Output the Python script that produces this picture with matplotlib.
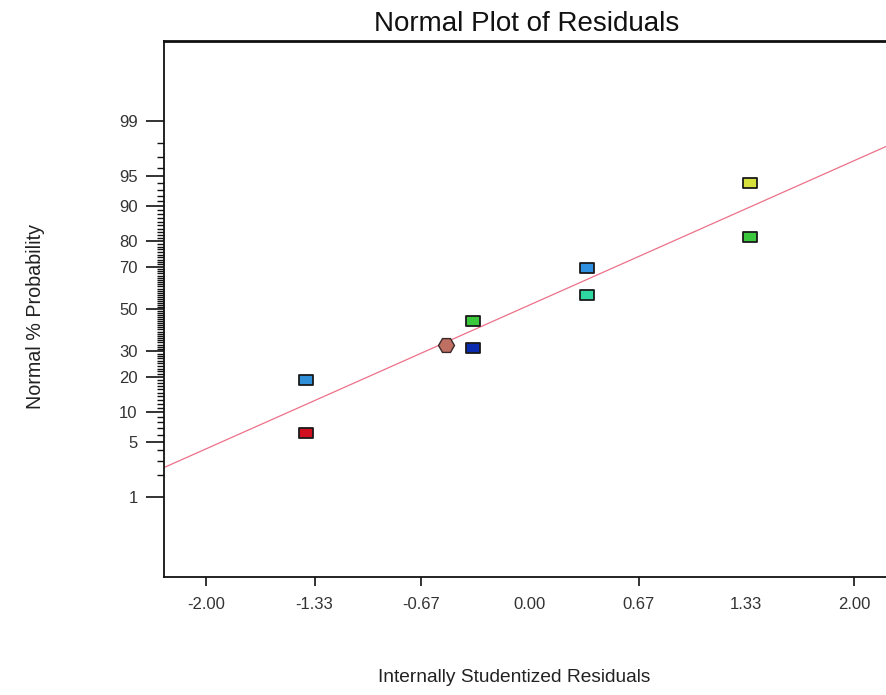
import matplotlib
matplotlib.use("Agg")
import matplotlib.pyplot as plt
import numpy as np
from matplotlib.path import Path
from statistics import NormalDist

# ---- data ----
residuals = [1.36, 1.36, 0.35, 0.35, -0.35, -0.35, -0.52, -1.38, -1.38]
prob_pct = [94.0, 81.5, 69.3, 56.8, 44.0, 31.4, 33.0, 19.1, 6.3]
colors = ["#d6e03c", "#3cc83c", "#2f8fe0", "#2fd8a0", "#3cc83c",
          "#0a2ab0", "#c07062", "#2f8fd8", "#d01020"]
shapes = ["rect", "rect", "rect", "rect", "rect", "rect", "hex", "rect", "rect"]

x_ticks = [-2.00, -1.33, -0.67, 0.00, 0.67, 1.33, 2.00]
x_tick_labels = ["-2.00", "-1.33", "-0.67", "0.00", "0.67", "1.33", "2.00"]
x_ticks_no_mark = [0.00, 1.33]
y_major_pct = [1, 5, 10, 20, 30, 50, 70, 80, 90, 95, 99]
y_minor_pct = [p for p in range(2, 99) if p not in y_major_pct]

fit_slope = 0.8925
fit_intercept = 0.052

nd = NormalDist()
def z(p):
    return nd.inv_cdf(p / 100.0)

plt.rcParams['font.family'] = ['Liberation Sans', 'DejaVu Sans']

fig = plt.figure(figsize=(8.86, 6.95), dpi=100)
ax = fig.add_axes([164/886, (695-577)/695, (896-164)/886, (577-41)/695])
ax.set_xlim(-2.259, 2.259)
ax.set_ylim(-3.32, 3.32)

# fit line
xl = np.array(ax.get_xlim())
ax.plot(xl, fit_intercept + fit_slope * xl, color="#ec7088", lw=0.9, zorder=2)

rect = Path([(-1, -0.68), (1, -0.68), (1, 0.68), (-1, 0.68), (-1, -0.68)],
            [Path.MOVETO, Path.LINETO, Path.LINETO, Path.LINETO, Path.CLOSEPOLY])
for xv, pv, c, s in zip(residuals, prob_pct, colors, shapes):
    if s == "rect":
        ax.plot([xv], [z(pv)], linestyle="none", marker=rect, markersize=9.6,
                markerfacecolor=c, markeredgecolor="#1a1a1a", markeredgewidth=1.3, zorder=3)
    else:
        ax.plot([xv], [z(pv)], linestyle="none", marker="H", markersize=11.5,
                markerfacecolor=c, markeredgecolor="#3a2a2a", markeredgewidth=1.0, zorder=3)

# axes styling
for side in ["left", "bottom", "top"]:
    ax.spines[side].set_linewidth(1.3)
    ax.spines[side].set_color("#111111")
ax.spines["top"].set_linewidth(2.0)
ax.spines["right"].set_visible(False)

ax.set_xticks(x_ticks)
ax.set_xticklabels(x_tick_labels)
for t, v in zip(ax.xaxis.get_major_ticks(), x_ticks):
    if v in x_ticks_no_mark:
        t.tick1line.set_visible(False)
ax.tick_params(axis="x", direction="out", length=6.5, width=1.2, pad=8,
               labelsize=12, colors="#111111", labelcolor="#333333")

ax.set_yticks([z(p) for p in y_major_pct])
ax.set_yticklabels([str(p) for p in y_major_pct])
ax.set_yticks([z(p) for p in y_minor_pct], minor=True)
ax.tick_params(axis="y", which="major", direction="out", length=13, width=1.2,
               pad=6, labelsize=12, colors="#111111", labelcolor="#333333")
ax.tick_params(axis="y", which="minor", direction="out", length=5, width=1.0,
               colors="#111111")

fig.text(0.594, 0.965, "Normal Plot of Residuals", ha="center", va="center",
         fontsize=20, color="#111111")
fig.text(0.580, 0.025, "Internally Studentized Residuals", ha="center",
         va="center", fontsize=13.8, color="#222222")
fig.text(0.040, 0.545, "Normal % Probability", ha="center", va="center",
         rotation=90, fontsize=14.2, color="#222222")

fig.savefig("out.png", dpi=100)
